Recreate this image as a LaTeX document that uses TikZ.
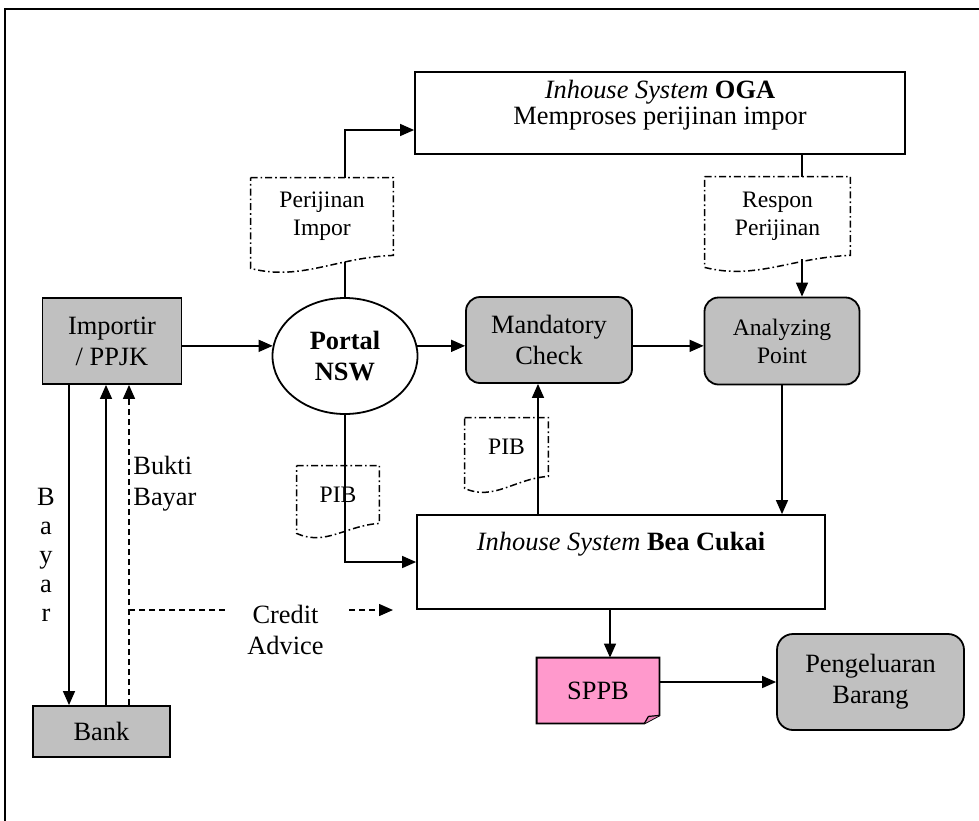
\documentclass[tikz,border=0pt]{standalone}
\usepackage{fontspec}
\setmainfont{Liberation Serif}
\usepackage{tikz}
\usetikzlibrary{arrows.meta}
\usetikzlibrary{backgrounds}
\usetikzlibrary{calc}
\usetikzlibrary{shapes.geometric}
\definecolor{boxGray}{HTML}{C0C0C0}
\definecolor{sppbPink}{HTML}{FF99CC}
\definecolor{foldPink}{HTML}{E57FB2}

% outline of a document symbol: straight top, wavy bottom
\newcommand{\DocOutline}[2]{%
  \draw[DocLine] (#1.north west) -- (#1.north east) -- (#1.south east)
    .. controls ($(#1.south east)!0.4!(#1.south west)+(0,2)$)
    and ($(#1.south west)!0.35!(#1.south east)+(0,#2+13)$) ..
    ($(#1.south west)+(0,#2)$) -- cycle;}

\begin{document}
\begin{tikzpicture}[x=0.5pt,y=-0.5pt]
\tikzset{MainText/.style={
  font=\fontsize{13.2}{15.5}\selectfont,
  align=center,
}}
\tikzset{SmallText/.style={
  font=\fontsize{11.8}{14}\selectfont,
  align=center,
}}
\tikzset{GrayBox/.style={
  MainText,
  draw,
  line width=0.9pt,
  fill=boxGray,
  rectangle,
  inner sep=0pt,
}}
\tikzset{PlainBox/.style={
  draw,
  line width=0.9pt,
  rectangle,
  inner sep=0pt,
}}
\tikzset{DocText/.style={
  SmallText,
  inner sep=0pt,
}}
\tikzset{DocLine/.style={line width=0.75pt, dash pattern=on 3.5pt off 1.5pt on 0.8pt off 1.5pt}}
\tikzset{DashLine/.style={dash pattern=on 3pt off 2pt}}
\tikzset{Flow/.style={-{Triangle[length=7pt,width=6pt]}, line width=0.7pt}}

\useasboundingbox (0,0) rectangle (979,820);
\draw[line width=1pt] (5,825) -- (5,9) -- (985,9);

% boxes
\node[PlainBox, minimum width=245pt, minimum height=41pt] (OgaBox) at (660,113) {};
\node[MainText, font=\fontsize{13.2}{12.8}\selectfont] (OgaText) at ($(OgaBox.north)+(0,34)$) {\textit{Inhouse System} \textbf{OGA}\\Memproses perijinan impor};

\node[GrayBox, minimum width=69.5pt, minimum height=43pt] (ImportirBox) at (112,341) {Importir\\/ PPJK};
\node[ellipse, draw, line width=0.9pt, inner sep=0pt, minimum width=72.5pt, minimum height=58pt,
      MainText, font=\fontsize{13.2}{15.5}\selectfont\bfseries] (Portal) at (345,356) {Portal\\NSW};
\node[GrayBox, rounded corners=7pt, minimum width=83pt, minimum height=43pt] (Mandatory) at (549,340) {Mandatory\\Check};
\node[GrayBox, SmallText, rounded corners=7pt, minimum width=77.5pt, minimum height=43.5pt] (Analyzing) at (782,341) {Analyzing\\Point};

\node[PlainBox, minimum width=204pt, minimum height=47pt] (BeaBox) at (621,562) {};
\node[MainText] (BeaText) at ($(BeaBox.north)+(0,30)$) {\textit{Inhouse System} \textbf{Bea Cukai}};

\node[MainText, minimum width=61pt, minimum height=32.5pt, inner sep=0pt] (SPPB) at (598,690.5) {SPPB};
\begin{scope}[on background layer]
\draw[line width=0.9pt, fill=sppbPink] (SPPB.north west) -- (SPPB.north east) -- ($(SPPB.south east)+(0,-8)$)
  -- ($(SPPB.south east)+(-15,0)$) -- (SPPB.south west) -- cycle;
\draw[line width=0.6pt, fill=foldPink] ($(SPPB.south east)+(-15,0)$) -- ($(SPPB.south east)+(-11,-7)$)
  -- ($(SPPB.south east)+(0,-8)$);
\end{scope}

\node[GrayBox, rounded corners=8pt, minimum width=93.5pt, minimum height=48pt] (Release) at (870.5,682) {Pengeluaran\\Barang};
\node[GrayBox, minimum width=68.5pt, minimum height=25.5pt] (Bank) at (101.5,731.5) {Bank};

% documents
\node[DocText, minimum width=71pt, minimum height=38.5pt] (PermitDoc) at (322,216.5) {Perijinan\\Impor};
\node[DocText, minimum width=72.5pt, minimum height=39pt] (ResponDoc) at (777.5,216) {Respon\\Perijinan};
\node[DocText, minimum width=41pt, minimum height=28.5pt] (PibLeft) at (338,494.5) {PIB};
\node[DocText, minimum width=41.5pt, minimum height=29pt] (PibRight) at (506.5,447) {PIB};
\DocOutline{PermitDoc}{13}
\DocOutline{ResponDoc}{12}
\DocOutline{PibLeft}{10}
\DocOutline{PibRight}{12}

% link positions
\coordinate (ResponLink) at (802,0);
\coordinate (MandLink) at (538,0);
\coordinate (SppbLink) at (610,0);
\coordinate (BayarLink) at (69,0);
\coordinate (PayLink) at (106,0);
\coordinate (ProofLink) at (129,0);
\coordinate (CreditEnd) at (393,610);

% connectors
\draw[Flow] (ImportirBox.east |- Portal.172) -- (Portal.172);
\draw[Flow] (Portal.8) -- (Portal.8 -| Mandatory.west);
\draw[Flow] (Mandatory.east |- Portal.8) -- (Analyzing.west |- Portal.8);
\draw[line width=0.7pt] (Portal.north) -- ($(PermitDoc.south -| Portal.north)+(0,7)$);
\draw[Flow] (PermitDoc.north -| Portal.north) |- ($(OgaBox.west)+(0,17)$);
\draw[line width=0.7pt] (OgaBox.south -| ResponLink) -- (ResponDoc.north -| ResponLink);
\draw[Flow] ($(ResponDoc.south -| ResponLink)+(0,4)$) -- (Analyzing.north -| ResponLink);
\draw[Flow] (Analyzing.south) -- (Analyzing.south |- BeaBox.north);
\draw[Flow] (Portal.south) |- (BeaBox.west);
\draw[Flow] (BeaBox.north -| MandLink) -- (Mandatory.south -| MandLink);
\draw[Flow] (BeaBox.south -| SppbLink) -- (SPPB.north -| SppbLink);
\draw[Flow] (SPPB.east |- Release.west) -- (Release.west);
\draw[Flow] (ImportirBox.south -| BayarLink) -- (Bank.north -| BayarLink);
\draw[Flow] (Bank.north -| PayLink) -- (ImportirBox.south -| PayLink);
\draw[Flow, DashLine] (Bank.north -| ProofLink) -- (ImportirBox.south -| ProofLink);
\draw[Flow, DashLine] (ProofLink |- CreditEnd) -- (CreditEnd);

% labels
\node[MainText, fill=white, inner sep=0pt, minimum width=60.5pt, minimum height=43.5pt] (CreditLabel) at (285.5,629.5) {Credit\\Advice};
\node[MainText, align=left, anchor=west, inner sep=0pt] (ProofLabel) at (133,484) {Bukti\\Bayar};
\node[MainText, font=\fontsize{13.2}{14.5}\selectfont] (BayarLabel) at (46,555) {B\\a\\y\\a\\r};
\end{tikzpicture}
\end{document}
